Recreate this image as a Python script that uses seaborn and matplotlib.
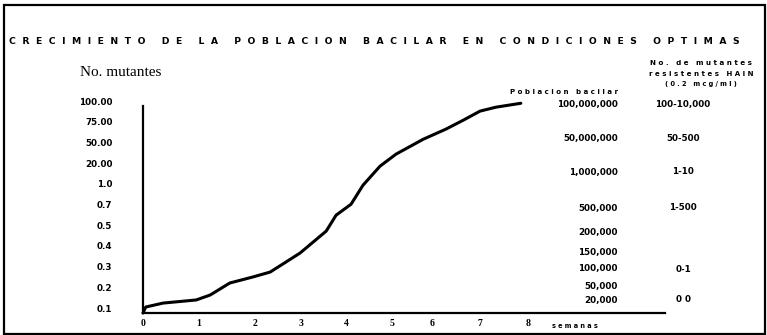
import matplotlib
matplotlib.use("Agg")
import matplotlib.pyplot as plt
import seaborn as sns
import numpy as np
import pandas as pd
from matplotlib.patches import Rectangle

# curve: x in weeks, y in mutant-level steps (0 = 0.1 ... 10 = 100.00)
weeks = [0.0, 0.05, 0.36, 0.95, 1.20, 1.55, 1.96, 2.33, 2.67, 2.98, 3.27, 3.56,
         3.78, 4.11, 4.37, 4.74, 5.10, 5.78, 6.29, 6.65, 7.00, 7.33, 7.85]
level = [-0.24, 0.05, 0.24, 0.39, 0.63, 1.21, 1.50, 1.74, 2.22, 2.66, 3.19, 3.72,
         4.49, 5.02, 5.94, 6.86, 7.44, 8.16, 8.65, 9.08, 9.52, 9.71, 9.90]

mutant_labels = ["0.1", "0.2", "0.3", "0.4", "0.5", "0.7", "1.0",
                 "20.00", "50.00", "75.00", "100.00"]
week_ticks = [0, 1, 2, 3, 4, 5, 6, 7, 8]

poblacion = ["100,000,000", "50,000,000", "1,000,000", "500,000", "200,000",
             "150,000", "100,000", "50,000", "20,000"]
resistentes = ["100-10,000", "50-500", "1-10", "1-500", "", "", "0-1", "", "0 0"]

title = "CRECIMIENTO DE LA POBLACION BACILAR EN CONDICIONES OPTIMAS"

df = pd.DataFrame({"semanas": weeks, "nivel": level})

sns.set_style("white")
plt.rcParams["font.family"] = ["DejaVu Sans"]
plt.rcParams["text.color"] = "black"
plt.rcParams["xtick.color"] = "black"
plt.rcParams["ytick.color"] = "black"

W, H = 767, 335
fig = plt.figure(figsize=(W / 100, H / 100), dpi=100)


def fx(px):
    return px / W


def fy(py):
    return 1 - py / H


def spaced(text, gap=" ", word_gap="   "):
    return word_gap.join(gap.join(w) for w in text.split())


# the hand-drawn week axis is not evenly spaced; warp it the same way
warp_weeks = [0, 1, 2, 3, 4, 5, 6, 7, 8, 12]
warp_px = [0, 56, 112, 158, 203, 249, 289, 337, 385, 569]


def fwd(x):
    return np.interp(x, warp_weeks, warp_px)


def inv(p):
    return np.interp(p, warp_px, warp_weeks)


ax = fig.add_axes([fx(143), fy(313), (665 - 143) / W, (313 - 95) / H])
sns.lineplot(data=df, x="semanas", y="nivel", color="black", linewidth=2.2, ax=ax)
for ln in ax.lines:
    ln.set_clip_on(False)

ax.set_xscale("function", functions=(fwd, inv))
ax.set_xlim(0, inv(665 - 143))
ax.set_ylim(-0.24, 10.3)
ax.spines["left"].set_bounds(-0.24, 9.76)
ax.set_yticks(range(len(mutant_labels)))
ax.set_yticklabels(mutant_labels, fontsize=6.3, fontweight="bold")
ax.set_xticks(week_ticks)
ax.set_xticklabels([str(w) for w in week_ticks], fontsize=7, fontweight="bold",
                   family="Liberation Serif")
ax.xaxis.set_minor_locator(matplotlib.ticker.NullLocator())
ax.tick_params(axis="y", length=0, pad=22)
ax.tick_params(axis="x", length=0, pad=4)
ax.set_xlabel("")
ax.set_ylabel("")
for s in ["top", "right"]:
    ax.spines[s].set_visible(False)
for s in ["left", "bottom"]:
    ax.spines[s].set_color("black")
    ax.spines[s].set_linewidth(1.6)
ax.patch.set_alpha(0)

# frame around the page
fig.patches.append(Rectangle((fx(4), fy(334)), fx(761), (334 - 5) / H,
                             transform=fig.transFigure, fill=False,
                             edgecolor="black", linewidth=1.6))

renderer = fig.canvas.get_renderer()


def fit(t, width_px):
    # stretch a letter-spaced line to the width it has in the scan
    w = t.get_window_extent(renderer).width
    t.set_fontsize(t.get_fontsize() * width_px / w)


t = fig.text(fx(9), fy(41), spaced(title, "  ", "     "), fontsize=8,
             fontweight="bold", va="center", ha="left")
fit(t, 730)
fig.text(fx(80), fy(72), "No. mutantes", fontsize=11, va="center", ha="left",
         family="Liberation Serif")
t = fig.text(fx(575), fy(326), spaced("semanas"), fontsize=6.5, fontweight="bold",
             va="center", ha="center")
fit(t, 46)

t = fig.text(fx(618), fy(92), spaced("Poblacion bacilar"), fontsize=5.5,
             fontweight="bold", va="center", ha="right")
fit(t, 107)
header = ["No. de mutantes", "resistentes HAIN", "(0.2 mcg/ml)"]
header_w = [102, 102, 72]
for i, line in enumerate(header):
    t = fig.text(fx(701), fy(63 + 10.5 * i), spaced(line), fontsize=5.5,
                 fontweight="bold", va="center", ha="center")
    fit(t, header_w[i])

row_y = [104, 139, 172, 208, 232, 252, 269, 286, 300]
for py, pob, res in zip(row_y, poblacion, resistentes):
    fig.text(fx(618), fy(py), pob, fontsize=6.3, fontweight="bold",
             va="center", ha="right")
    if res:
        fig.text(fx(683), fy(py), res, fontsize=6.3, fontweight="bold",
                 va="center", ha="center")

fig.savefig("out.png", dpi=100)
